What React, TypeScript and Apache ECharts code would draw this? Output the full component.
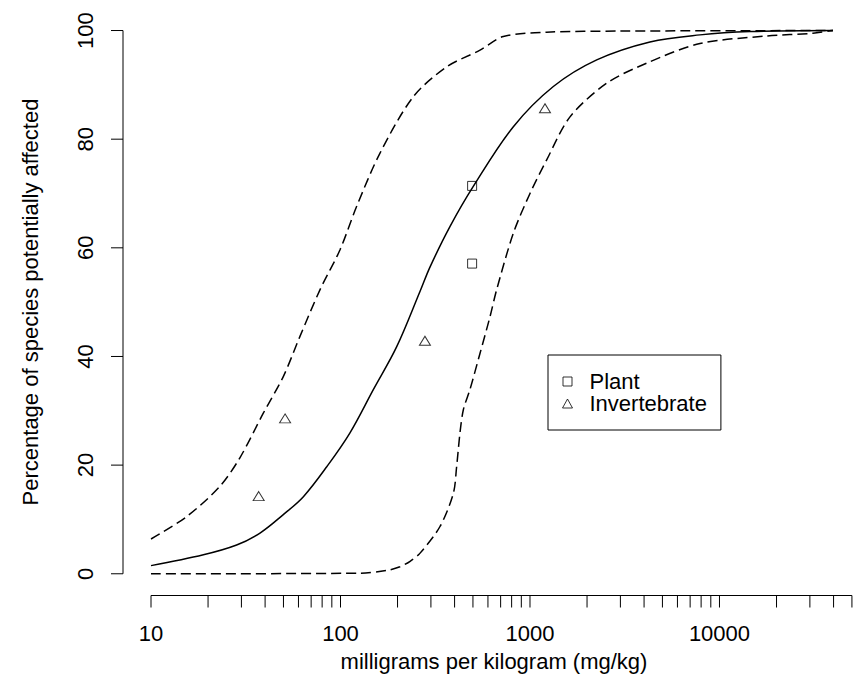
import React, { useEffect, useRef } from "react";
import * as echarts from "echarts";

const X_MIN = 7.115;
const X_MAX = 53830;
const Y_MIN = -4;
const Y_MAX = 104;

const X_TICKS = [
  10, 20, 30, 40, 50, 60, 70, 80, 90,
  100, 200, 300, 400, 500, 600, 700, 800, 900,
  1000, 2000, 3000, 4000, 5000, 6000, 7000, 8000, 9000,
  10000, 20000, 30000, 40000, 50000,
];
const X_LABELS = [10, 100, 1000, 10000];
const Y_TICKS = [0, 20, 40, 60, 80, 100];

const X_TITLE = "milligrams per kilogram (mg/kg)";
const Y_TITLE = "Percentage of species potentially affected";

// fitted curve (solid)
const FIT_X = [10, 18.9, 28.3, 37.6, 49.9, 63.7, 84.6, 112, 149, 198, 263, 297, 378, 502, 817, 1328, 2250, 4295, 7890, 14490, 39700];
const FIT_Y = [1.5, 3.5, 5.3, 7.5, 10.9, 14.2, 19.7, 25.9, 33.9, 41.8, 52.0, 56.5, 63.9, 71.3, 82.3, 89.7, 94.6, 97.9, 99.2, 99.8, 100];

// upper confidence bound (dashed, left)
const UPPER_X = [10, 15.4, 23.1, 29.5, 39.2, 49.9, 61.1, 78, 99.3, 121.6, 161.4, 242, 363, 545, 723, 1225, 3000, 39700];
const UPPER_Y = [6.4, 10.5, 16.1, 21.4, 29.6, 36.3, 43.7, 52.3, 59.6, 67.6, 77.4, 87.8, 93.3, 96.4, 98.9, 99.7, 99.9, 100];

// lower confidence bound (dashed, right)
const LOWER_X = [10, 127, 175, 206, 233, 263, 335, 394, 410, 427, 445, 482, 545, 615, 667, 817, 1000, 1225, 1626, 2540, 4130, 7890, 17740, 31100, 39700];
const LOWER_Y = [0, 0.1, 0.6, 1.3, 2.3, 3.8, 8.7, 14.8, 19.7, 25.9, 30.2, 33.9, 40.6, 47.3, 52.3, 62.7, 70.0, 76.2, 84.1, 90.3, 94.0, 97.6, 99.0, 99.5, 100];

// observations
const PLANT_X = [495, 495];
const PLANT_Y = [71.4, 57.1];
const INVERT_X = [37, 51, 279, 1200];
const INVERT_Y = [14.3, 28.6, 42.9, 85.7];

const FONT = "Liberation Sans, Arial, Helvetica, sans-serif";
const FONT_SIZE = 22;
const TICK = 12;

const zip = (xs: number[], ys: number[]) => xs.map((x, i) => [x, ys[i]]);

const renderAxes = (_params: any, api: any) => {
  const children: any[] = [];
  const stroke = { stroke: "#000", lineWidth: 1 };
  const textStyle = (text: string) => ({
    text,
    fill: "#000",
    fontSize: FONT_SIZE,
    fontFamily: FONT,
    align: "center",
    verticalAlign: "middle",
  });
  const origin = api.coord([X_MIN, Y_MIN]);
  const xl = origin[0];
  const yb = origin[1];

  // x axis
  const xa = api.coord([X_TICKS[0], Y_MIN])[0];
  const xb = api.coord([X_TICKS[X_TICKS.length - 1], Y_MIN])[0];
  children.push({ type: "line", shape: { x1: xa, y1: yb, x2: xb, y2: yb }, style: stroke });
  X_TICKS.forEach((v) => {
    const x = api.coord([v, Y_MIN])[0];
    children.push({ type: "line", shape: { x1: x, y1: yb, x2: x, y2: yb + TICK }, style: stroke });
  });
  X_LABELS.forEach((v) => {
    const x = api.coord([v, Y_MIN])[0];
    children.push({ type: "text", x, y: yb + 37.5, style: textStyle(String(v)) });
  });

  // y axis
  const ya = api.coord([X_MIN, Y_TICKS[0]])[1];
  const yt = api.coord([X_MIN, Y_TICKS[Y_TICKS.length - 1]])[1];
  children.push({ type: "line", shape: { x1: xl, y1: ya, x2: xl, y2: yt }, style: stroke });
  Y_TICKS.forEach((v) => {
    const y = api.coord([X_MIN, v])[1];
    children.push({ type: "line", shape: { x1: xl - TICK, y1: y, x2: xl, y2: y }, style: stroke });
    children.push({ type: "text", x: xl - 38, y, rotation: Math.PI / 2, style: textStyle(String(v)) });
  });

  return { type: "group", children };
};

export default function App() {
  const ref = useRef<HTMLDivElement>(null);

  useEffect(() => {
    if (!ref.current) return;
    const chart = echarts.init(ref.current, null, { renderer: "svg" });
    const hollow = { color: "rgba(0,0,0,0)", borderColor: "#000", borderWidth: 1 };
    const dashed = { color: "#000", width: 1.5, type: [10, 5] as number[] };
    chart.setOption({
      animation: false,
      backgroundColor: "#ffffff",
      grid: { left: 123, right: 0, top: 8.8, bottom: 95.5, containLabel: false },
      xAxis: {
        type: "log",
        logBase: 10,
        min: X_MIN,
        max: X_MAX,
        axisLine: { show: false },
        axisTick: { show: false },
        axisLabel: { show: false },
        splitLine: { show: false },
      },
      yAxis: {
        type: "value",
        min: Y_MIN,
        max: Y_MAX,
        axisLine: { show: false },
        axisTick: { show: false },
        axisLabel: { show: false },
        splitLine: { show: false },
      },
      legend: {
        data: [
          { name: "Plant", icon: "path://M0,0H10V10H0Z" },
          { name: "Invertebrate", icon: "path://M5,0L10,9H0Z" },
        ],
        orient: "vertical",
        left: 548,
        top: 355,
        padding: [15.5, 14, 15.5, 14],
        itemWidth: 34,
        itemHeight: 9,
        itemGap: 0,
        symbolKeepAspect: true,
        borderColor: "#000",
        borderWidth: 1,
        borderRadius: 0,
        selectedMode: false,
        itemStyle: hollow,
        textStyle: { fontSize: FONT_SIZE, fontFamily: FONT, color: "#000", lineHeight: 22 },
      },
      graphic: [
        {
          type: "text",
          x: 494,
          y: 661,
          style: { text: X_TITLE, fill: "#000", fontSize: FONT_SIZE, fontFamily: FONT, align: "center", verticalAlign: "middle" },
        },
        {
          type: "text",
          x: 30,
          y: 302,
          rotation: Math.PI / 2,
          style: { text: Y_TITLE, fill: "#000", fontSize: FONT_SIZE, fontFamily: FONT, align: "center", verticalAlign: "middle" },
        },
      ],
      series: [
        { type: "custom", name: "axes", renderItem: renderAxes, data: [[X_MIN, Y_MIN]], clip: false, silent: true, z: 1 },
        {
          type: "line",
          name: "Fitted",
          data: zip(FIT_X, FIT_Y),
          showSymbol: false,
          smooth: 0.35,
          lineStyle: { color: "#000", width: 1.5 },
          itemStyle: { color: "#000" },
          z: 2,
        },
        {
          type: "line",
          name: "Upper",
          data: zip(UPPER_X, UPPER_Y),
          showSymbol: false,
          smooth: 0.3,
          lineStyle: dashed,
          itemStyle: { color: "#000" },
          z: 2,
        },
        {
          type: "line",
          name: "Lower",
          data: zip(LOWER_X, LOWER_Y),
          showSymbol: false,
          smooth: 0.3,
          lineStyle: dashed,
          itemStyle: { color: "#000" },
          z: 2,
        },
        {
          type: "scatter",
          name: "Plant",
          data: zip(PLANT_X, PLANT_Y),
          symbol: "rect",
          symbolSize: 9,
          itemStyle: hollow,
          z: 3,
        },
        {
          type: "scatter",
          name: "Invertebrate",
          data: zip(INVERT_X, INVERT_Y),
          symbol: "triangle",
          symbolSize: [11, 9],
          itemStyle: hollow,
          z: 3,
        },
      ],
    });
    return () => chart.dispose();
  }, []);

  return (
    <div
      ref={ref}
      style={{ position: "absolute", left: 0, top: 0, width: 858, height: 691, background: "#fff" }}
    />
  );
}
